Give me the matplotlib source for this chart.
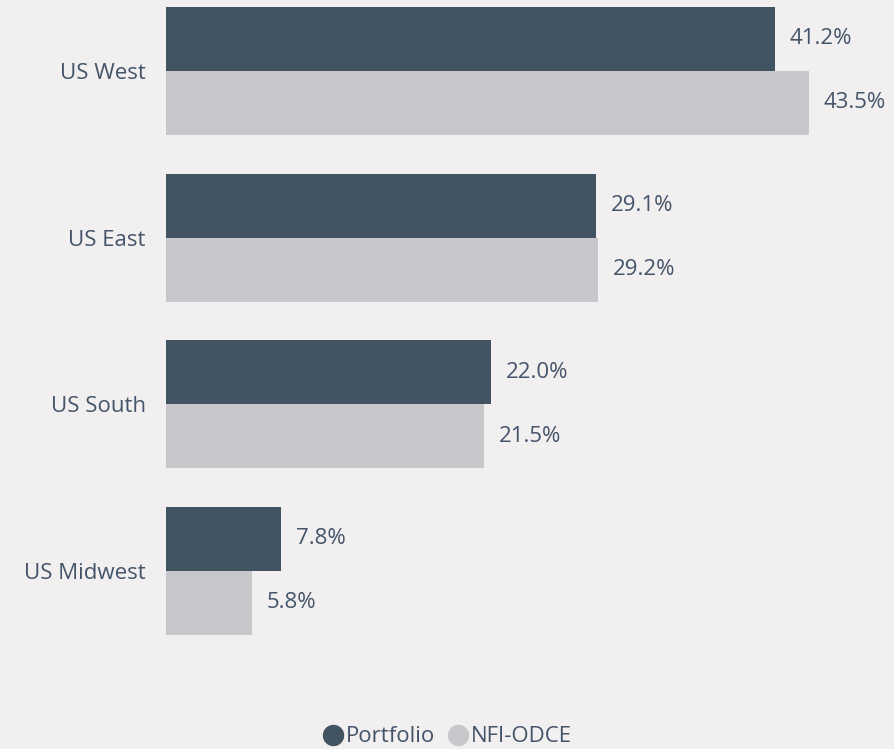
import matplotlib.pyplot as plt
from matplotlib.lines import Line2D

regions = ["US West", "US East", "US South", "US Midwest"]
portfolio = [41.2, 29.1, 22.0, 7.8]
odce = [43.5, 29.2, 21.5, 5.8]
series_names = ["Portfolio", "NFI-ODCE"]

BG = "#f1eff0"
DARK = "#425361"
LIGHT = "#c8c7cc"
TEXT = "#44546a"
FONT = ["Open Sans", "DejaVu Sans"]
FS = 16

plt.rcParams["font.family"] = FONT

W, H = 895, 749
fig = plt.figure(figsize=(W / 100, H / 100), dpi=100, facecolor=BG)
ax = fig.add_axes([166 / W, (H - 680) / H, 729 / W, 680 / H], facecolor=BG)

h = 0.384
ys = list(range(len(regions)))
b1 = ax.barh([y - h / 2 for y in ys], portfolio, height=h, color=DARK)
b2 = ax.barh([y + h / 2 for y in ys], odce, height=h, color=LIGHT)

for bars, vals in ((b1, portfolio), (b2, odce)):
    for bar, v in zip(bars, vals):
        ax.annotate(f"{v:.1f}%", (v, bar.get_y() + bar.get_height() / 2),
                    xytext=(15, 0), textcoords="offset pixels",
                    va="center", ha="left", fontsize=FS, color=TEXT)

ax.set_xlim(0, 729 / 14.78)
ax.set_ylim(3.654, -0.426)
ax.set_yticks(ys)
ax.set_yticklabels(regions, fontsize=FS, color=TEXT)
ax.tick_params(axis="y", length=0, pad=14.4)
ax.set_xticks([])
for s in ax.spines.values():
    s.set_visible(False)

handles = [Line2D([], [], marker="o", linestyle="none", markersize=14.4,
                  markerfacecolor=c, markeredgecolor=c) for c in (DARK, LIGHT)]
fig.legend(handles, series_names, loc="center", bbox_to_anchor=(0.5, 12 / H),
           ncol=2, frameon=False, handletextpad=0.1, columnspacing=0.6,
           prop={"size": FS}, labelcolor=TEXT, handlelength=0.9)

fig.savefig("out.png", facecolor=BG)
